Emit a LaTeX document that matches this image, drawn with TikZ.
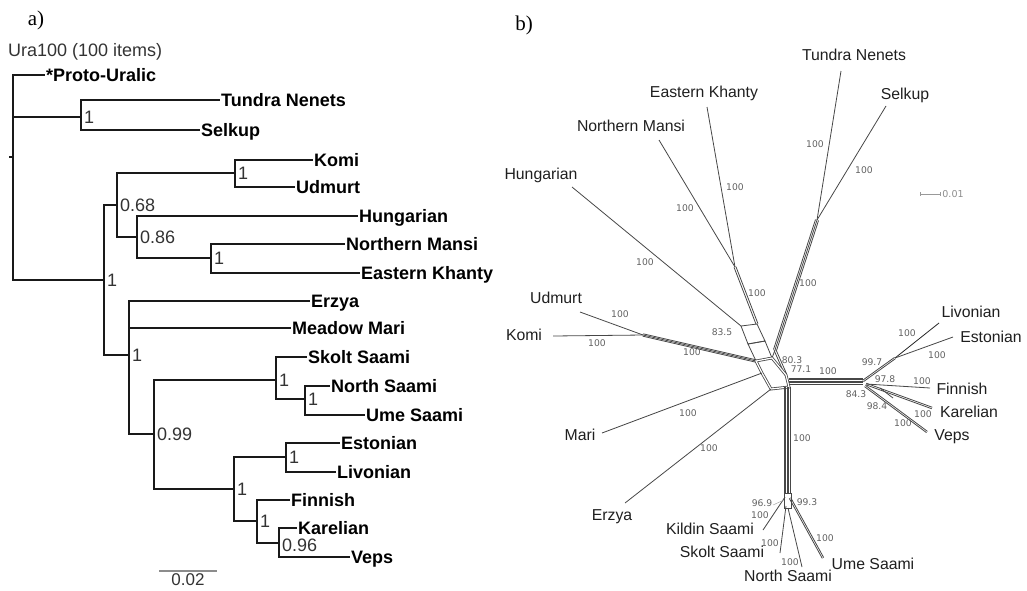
\documentclass[tikz,border=0pt]{standalone}
\usepackage{fontspec}
\setmainfont{Liberation Serif}
\newfontfamily\arial{Liberation Sans}
\newfontfamily\dejavu{DejaVu Sans}
\usetikzlibrary{calc}
\newcommand\netband[3]{\foreach \o in {#3}{\draw[netline] ($(#1)!\o!90:(#2)$) -- ($(#2)!\o!-90:(#1)$);}}
\begin{document}
\begin{tikzpicture}[x=1pt,y=-1pt,
  branch/.style={draw=black!90,line width=2.3pt},
  leaf/.style={font=\arial\bfseries\fontsize{18}{20}\selectfont,anchor=west,inner sep=1pt,text height=13pt,text depth=0pt},
  suplab/.style={font=\arial\fontsize{18}{20}\selectfont,anchor=west,inner sep=1pt,text=black!80,text height=13pt,text depth=0pt,xshift=2pt},
  netline/.style={draw=black!72,line width=0.8pt},
  netlab/.style={font=\arial\fontsize{15.8}{18}\selectfont,text=black!88,inner sep=0pt},
  bs/.style={font=\dejavu\fontsize{9.2}{11}\selectfont,text=black!62,inner sep=0pt},
  panel/.style={font=\fontsize{21}{24}\selectfont,inner sep=0pt}]
\useasboundingbox (0,0) rectangle (1027,590);
% ---------------- panel a ----------------
\node[panel] (pa) at (36,20) {a)};
\node[font=\arial\fontsize{18}{20}\selectfont,text=black!80,anchor=west,inner sep=0pt] (title) at (8,52) {Ura100 (100 items)};
\coordinate (r) at (13,157);
\coordinate (rt) at (9,157);
\coordinate (nen) at (81,117);
\coordinate (big) at (104,280);
\coordinate (c068) at (117,205);
\coordinate (ck) at (235,173);
\coordinate (c086) at (137,237);
\coordinate (cm) at (211,258);
\coordinate (cez) at (129,355);
\coordinate (c099) at (154,434);
\coordinate (cs) at (276,380);
\coordinate (cnu) at (305,399);
\coordinate (cf) at (234,489);
\coordinate (cel) at (286,457);
\coordinate (cfkv) at (257,521);
\coordinate (ckv) at (279,543);
\node[leaf] (PU) at (45,75) {*Proto-Uralic};
\node[leaf] (TN) at (220,100) {Tundra Nenets};
\node[leaf] (SE) at (200,130) {Selkup};
\node[leaf] (KO) at (313,160) {Komi};
\node[leaf] (UD) at (295,187) {Udmurt};
\node[leaf] (HU) at (358,216) {Hungarian};
\node[leaf] (NM) at (345,244) {Northern Mansi};
\node[leaf] (EK) at (360,273) {Eastern Khanty};
\node[leaf] (ER) at (310,301) {Erzya};
\node[leaf] (MM) at (291,328) {Meadow Mari};
\node[leaf] (SK) at (307,357) {Skolt Saami};
\node[leaf] (NS) at (330,386) {North Saami};
\node[leaf] (US) at (365,415) {Ume Saami};
\node[leaf] (ES) at (340,443) {Estonian};
\node[leaf] (LI) at (336,472) {Livonian};
\node[leaf] (FI) at (290,500) {Finnish};
\node[leaf] (KA) at (297,528) {Karelian};
\node[leaf] (VE) at (350,557) {Veps};
\draw[branch] (r) -- (rt);
\draw[branch] (r) |- (PU.west);
\draw[branch] (r) |- (nen);
\draw[branch] (r) |- (big);
\draw[branch] (nen) |- (TN.west);
\draw[branch] (nen) |- (SE.west);
\draw[branch] (big) |- (c068);
\draw[branch] (big) |- (cez);
\draw[branch] (c068) |- (ck);
\draw[branch] (c068) |- (c086);
\draw[branch] (ck) |- (KO.west);
\draw[branch] (ck) |- (UD.west);
\draw[branch] (c086) |- (HU.west);
\draw[branch] (c086) |- (cm);
\draw[branch] (cm) |- (NM.west);
\draw[branch] (cm) |- (EK.west);
\draw[branch] (cez) |- (ER.west);
\draw[branch] (cez) |- (MM.west);
\draw[branch] (cez) |- (c099);
\draw[branch] (c099) |- (cs);
\draw[branch] (c099) |- (cf);
\draw[branch] (cs) |- (SK.west);
\draw[branch] (cs) |- (cnu);
\draw[branch] (cnu) |- (NS.west);
\draw[branch] (cnu) |- (US.west);
\draw[branch] (cf) |- (cel);
\draw[branch] (cf) |- (cfkv);
\draw[branch] (cel) |- (ES.west);
\draw[branch] (cel) |- (LI.west);
\draw[branch] (cfkv) |- (FI.west);
\draw[branch] (cfkv) |- (ckv);
\draw[branch] (ckv) |- (KA.west);
\draw[branch] (ckv) |- (VE.west);
\node[suplab] (s1) at (nen) {1};
\node[suplab] (s2) at (big) {1};
\node[suplab] (s3) at (c068) {0.68};
\node[suplab] (s4) at (ck) {1};
\node[suplab] (s5) at (c086) {0.86};
\node[suplab] (s6) at (cm) {1};
\node[suplab] (s7) at (cez) {1};
\node[suplab] (s8) at (c099) {0.99};
\node[suplab] (s9) at (cs) {1};
\node[suplab] (s10) at (cnu) {1};
\node[suplab] (s11) at (cf) {1};
\node[suplab] (s12) at (cel) {1};
\node[suplab] (s13) at (cfkv) {1};
\node[suplab,yshift=-2pt] (s14) at (ckv) {0.96};
\coordinate (sbA) at (159,571);
\coordinate (sbB) at (217,571);
\draw[draw=black!45,line width=1.4pt] (sbA) -- (sbB);
\node[font=\arial\fontsize{17}{20}\selectfont,text=black!80,inner sep=0pt] (sbl) at (188,580) {0.02};
% ---------------- panel b ----------------
\node[panel] (pb) at (524,25) {b)};
\coordinate (nTN) at (841,71);
\coordinate (nSE) at (886,106);
\coordinate (jTS) at (817,220);
\coordinate (tE) at (775,350);
\coordinate (nEK) at (707,107);
\coordinate (nNM) at (659,140);
\coordinate (jMK) at (735,267);
\coordinate (m1) at (757,324);
\coordinate (nHU) at (572,187);
\coordinate (a1) at (741,326);
\coordinate (a3) at (748,344);
\coordinate (m3) at (765,341);
\coordinate (nUD) at (580,312);
\coordinate (nKO) at (553,336);
\coordinate (jKU) at (643,335);
\coordinate (h1) at (756,361);
\coordinate (h2) at (772,358);
\coordinate (h3) at (786,375);
\coordinate (h4) at (789,387);
\coordinate (h5) at (771,389);
\coordinate (h6) at (762,373);
\coordinate (nMA) at (602,433);
\coordinate (nER) at (625,503);
\coordinate (hA) at (789,381);
\coordinate (hS) at (787,387);
\coordinate (jF) at (863,381);
\coordinate (jLE) at (895,358);
\coordinate (nLI) at (939,323);
\coordinate (nES) at (953,337);
\coordinate (jF2) at (866,384);
\coordinate (jF3) at (865,386);
\coordinate (nFI) at (930,388);
\coordinate (nKA) at (932,408);
\coordinate (nVE) at (927,432);
\coordinate (x1) at (880,388);
\coordinate (x2) at (893,398);
\coordinate (jS) at (787,493);
\coordinate (s1) at (785,497);
\coordinate (s2) at (786,506);
\coordinate (s3) at (788,508);
\coordinate (s4) at (790,498);
\coordinate (nKI) at (763,530);
\coordinate (nSK) at (780,553);
\coordinate (nNO) at (802,567);
\coordinate (nUM) at (823,558);
% bands
\netband{jTS}{tE}{-1.6pt,0pt,1.6pt}
\draw[netline] (jTS) -- (nTN);
\draw[netline] (jTS) -- (nSE);
\netband{tE}{h3}{-1pt,1pt}
\draw[netline] (tE) -- (h2);
\draw[netline] (jMK) -- (nEK);
\draw[netline] (jMK) -- (nNM);
\netband{jMK}{m1}{-1pt,1pt}
\draw[netline] (nHU) -- (a1);
\draw[netline] (a1) -- (m1) -- (m3) -- (a3) -- cycle;
\draw[netline] (a3) -- (m3) -- (h2) -- (h1) -- cycle;
\draw[netline] (jKU) -- (nUD);
\draw[netline] (jKU) -- (nKO);
\netband{jKU}{h1}{-1.2pt,0pt,1.2pt}
\draw[netline,double=white,double distance=1.2pt] (h1) -- (h2) -- (h3) -- (h4) -- (h5) -- (h6) -- cycle;
\draw[netline] (nMA) -- (h6);
\draw[netline] (nER) -- (h5);
% Finnic
\netband{hA}{jF}{-3pt,-1.5pt,0pt,1.5pt,3pt}
\netband{jF}{jLE}{-0.8pt,0.8pt}
\draw[netline,draw=black!85] (jLE) -- (nLI);
\draw[netline] (jLE) -- (nES);
\draw[netline] (jF2) -- (nFI);
\netband{jF2}{nKA}{-0.8pt,0.8pt}
\netband{jF3}{nVE}{-0.8pt,0.8pt}
\draw[netline] (x1) -- (x2);
% Saami
\netband{hS}{jS}{-3pt,-1.5pt,0pt,1.5pt,3pt}
\draw[netline] (s1) -- (nKI);
\draw[netline] (s2) -- (nSK);
\draw[netline] (s3) -- (nNO);
\netband{s4}{nUM}{-0.8pt,0.8pt}
\draw[netline] (784,493) rectangle (791,508);
\coordinate (g1) at (773,505);
\coordinate (g2) at (784,500);
\draw[draw=black!35,line width=0.5pt] (g1) -- (g2);
% scale
\coordinate (scA) at (920,194);
\coordinate (scB) at (940,194);
\draw[draw=black!40,line width=0.8pt] (scA) -- (scB);
\draw[draw=black!40,line width=0.8pt] ($(scA)+(0,-2)$) -- ($(scA)+(0,2)$);
\draw[draw=black!40,line width=0.8pt] ($(scB)+(0,-2)$) -- ($(scB)+(0,2)$);
\node[font=\dejavu\fontsize{9.5}{11}\selectfont,text=black!45,inner sep=0pt] (scl) at (953,194) {0.01};
% taxon labels
\node[netlab] (tTN) at (854,55) {Tundra Nenets};
\node[netlab] (tSE) at (905,95) {Selkup};
\node[netlab] (tEK) at (704,93) {Eastern Khanty};
\node[netlab] (tNM) at (631,126) {Northern Mansi};
\node[netlab] (tHU) at (541,175) {Hungarian};
\node[netlab] (tUD) at (556,298) {Udmurt};
\node[netlab] (tKO) at (524,335) {Komi};
\node[netlab] (tMA) at (580,435) {Mari};
\node[netlab] (tER) at (612,517) {Erzya};
\node[netlab] (tKI) at (710,529) {Kildin Saami};
\node[netlab] (tSK) at (722,552) {Skolt Saami};
\node[netlab] (tNO) at (788,576) {North Saami};
\node[netlab] (tUM) at (873,564) {Ume Saami};
\node[netlab] (tLI) at (971,312) {Livonian};
\node[netlab] (tES) at (991,337) {Estonian};
\node[netlab] (tFI) at (962,389) {Finnish};
\node[netlab] (tKA) at (969,412) {Karelian};
\node[netlab] (tVE) at (952,437) {Veps};
% support values
\node[bs] (b1) at (815,144) {100};
\node[bs] (b2) at (864,170) {100};
\node[bs] (b3) at (808,283) {100};
\node[bs] (b4) at (735,187) {100};
\node[bs] (b5) at (685,208) {100};
\node[bs] (b6) at (757,293) {100};
\node[bs] (b7) at (645,262) {100};
\node[bs] (b8) at (620,314) {100};
\node[bs] (b9) at (597,343) {100};
\node[bs] (b10) at (692,352) {100};
\node[bs] (b11) at (722,332) {83.5};
\node[bs] (b12) at (688,413) {100};
\node[bs] (b13) at (709,448) {100};
\node[bs] (b14) at (792,360) {80.3};
\node[bs] (b15) at (801,369) {77.1};
\node[bs] (b16) at (828,371) {100};
\node[bs] (b17) at (872,362) {99.7};
\node[bs] (b18) at (907,333) {100};
\node[bs] (b19) at (937,355) {100};
\node[bs] (b20) at (885,379) {97.8};
\node[bs] (b21) at (922,381) {100};
\node[bs] (b22) at (856,394) {84.3};
\node[bs] (b23) at (877,406) {98.4};
\node[bs] (b24) at (923,414) {100};
\node[bs] (b25) at (903,423) {100};
\node[bs] (b26) at (802,438) {100};
\node[bs] (b27) at (762,503) {96.9};
\node[bs] (b28) at (807,502) {99.3};
\node[bs] (b29) at (760,515) {100};
\node[bs] (b30) at (770,543) {100};
\node[bs] (b31) at (790,562) {100};
\node[bs] (b32) at (825,538) {100};
\end{tikzpicture}
\end{document}
